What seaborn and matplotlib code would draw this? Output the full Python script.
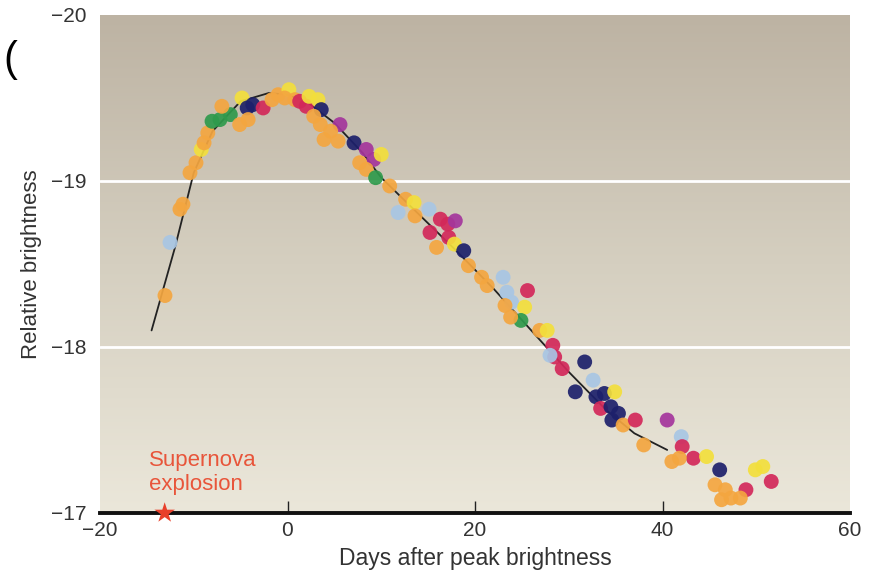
import numpy as np
import pandas as pd
import matplotlib
matplotlib.use("Agg")
import matplotlib.pyplot as plt
import seaborn as sns
from matplotlib.colors import LinearSegmentedColormap

# ---------------- data ----------------
days = [-13.07, -12.53, -11.47, -11.15, -10.4, -9.76, -9.2, -8.9, -8.5, -8.05,
        -7.2, -6.1, -7.0, -4.85, -4.3, -3.7, -5.1, -4.2, -2.6, -1.65,
        -1.0, 0.15, -0.3, 0.8, 1.3, 2.0, 2.3, 3.25, 3.6, 2.8,
        3.5, 3.9, 5.6, 4.6, 5.4, 7.1, 8.4, 9.2, 10.0, 7.7,
        8.4, 9.4, 10.9, 12.6, 13.5, 11.8, 15.1, 13.6, 16.3, 17.1,
        17.9, 15.2, 17.2, 15.9, 17.8, 18.8, 19.3, 20.7, 21.3, 23.0,
        23.4, 23.9, 25.6, 23.2, 25.3, 24.9, 23.8, 26.9, 27.7, 28.3,
        28.5, 29.3, 28.0, 31.7, 32.6, 30.7, 32.9, 33.8, 34.9, 33.4,
        34.5, 35.3, 34.6, 35.8, 37.1, 40.5, 42.0, 42.1, 43.3, 38.0,
        44.7, 41.0, 41.8, 46.1, 45.6, 46.7, 47.3, 46.3, 48.9, 49.9,
        50.7, 51.6, 48.3]
brightness = [-18.31, -18.63, -18.83, -18.86, -19.05, -19.11, -19.19, -19.23, -19.29, -19.36,
              -19.37, -19.40, -19.45, -19.50, -19.44, -19.46, -19.34, -19.37, -19.44, -19.49,
              -19.52, -19.55, -19.50, -19.49, -19.48, -19.45, -19.51, -19.49, -19.43, -19.39,
              -19.34, -19.25, -19.34, -19.30, -19.24, -19.23, -19.19, -19.13, -19.16, -19.11,
              -19.07, -19.02, -18.97, -18.89, -18.87, -18.81, -18.83, -18.79, -18.77, -18.74,
              -18.76, -18.69, -18.66, -18.60, -18.62, -18.58, -18.49, -18.42, -18.37, -18.42,
              -18.33, -18.27, -18.34, -18.25, -18.24, -18.16, -18.18, -18.10, -18.10, -18.01,
              -17.94, -17.87, -17.95, -17.91, -17.80, -17.73, -17.70, -17.72, -17.73, -17.63,
              -17.64, -17.60, -17.56, -17.53, -17.56, -17.56, -17.46, -17.40, -17.33, -17.41,
              -17.34, -17.31, -17.33, -17.26, -17.17, -17.14, -17.09, -17.08, -17.14, -17.26,
              -17.28, -17.19, -17.09]
survey = ["orange", "lightblue", "orange", "orange", "orange", "orange", "yellow", "orange", "orange", "green",
          "green", "green", "orange", "yellow", "navy", "navy", "orange", "orange", "crimson", "orange",
          "orange", "yellow", "orange", "orange", "crimson", "crimson", "yellow", "yellow", "navy", "orange",
          "orange", "orange", "purple", "orange", "orange", "navy", "purple", "purple", "yellow", "orange",
          "orange", "green", "orange", "orange", "yellow", "lightblue", "lightblue", "orange", "crimson", "crimson",
          "purple", "crimson", "crimson", "orange", "yellow", "navy", "orange", "orange", "orange", "lightblue",
          "lightblue", "lightblue", "crimson", "orange", "yellow", "green", "orange", "orange", "yellow", "crimson",
          "crimson", "crimson", "lightblue", "navy", "lightblue", "navy", "navy", "navy", "yellow", "crimson",
          "navy", "navy", "navy", "orange", "crimson", "purple", "lightblue", "crimson", "crimson", "orange",
          "yellow", "orange", "orange", "navy", "orange", "orange", "orange", "orange", "crimson", "yellow",
          "yellow", "crimson", "orange"]

curve_days = [-14.5, -12.0, -10.0, -8.0, -5.0, -2.0, 0.0, 2.0, 5.0, 8.0,
              10.0, 14.0, 18.0, 22.0, 26.0, 30.0, 34.0, 37.0, 40.5]
curve_bright = [-18.10, -18.60, -19.05, -19.30, -19.48, -19.53, -19.52, -19.48, -19.35, -19.17,
                -19.02, -18.80, -18.58, -18.35, -18.10, -17.85, -17.62, -17.48, -17.38]

x_ticks = [-20, 0, 20, 40, 60]
y_ticks = [-20, -19, -18, -17]
explosion_day = [-13.1]
explosion_bright = [-17.0]

palette = {"orange": "#f4a640", "yellow": "#f3df3c", "green": "#2f9a4c",
           "navy": "#1d206b", "crimson": "#d3285a", "purple": "#a4359c",
           "lightblue": "#a8c6e4"}

# ---------------- plot ----------------
sns.set_theme(style="white")
plt.rcParams["font.family"] = ["Liberation Sans Narrow", "Liberation Sans", "DejaVu Sans"]

fig = plt.figure(figsize=(8.73, 5.73), dpi=100)
ax = fig.add_axes([100 / 873, 60 / 573, 750 / 873, 498 / 573])

# background gradient: darker tan at top, lighter towards the bottom
cmap = LinearSegmentedColormap.from_list("bg", ["#ebe7da", "#d5cfc0", "#bdb3a3"])
grad = np.linspace(0, 1, 256).reshape(-1, 1)
ax.imshow(grad, extent=[-20, 60, -17, -20], aspect="auto", cmap=cmap,
          origin="lower", zorder=0)

for yv in [-19, -18]:
    ax.axhline(yv, color="white", lw=2.0, zorder=1)

df = pd.DataFrame({"days": days, "brightness": brightness, "survey": survey})
sns.scatterplot(data=df, x="days", y="brightness", hue="survey", palette=palette,
                s=115, edgecolor="none", alpha=0.92, legend=False, ax=ax, zorder=3)

cdf = pd.DataFrame({"days": curve_days, "brightness": curve_bright})
sns.lineplot(data=cdf, x="days", y="brightness", color="#222222", lw=1.3,
             ax=ax, zorder=2, sort=False)

ax.set_xlim(-20, 60)
ax.set_ylim(-17, -20)
ax.set_xticks(x_ticks)
ax.set_xticklabels([f"\u2212{abs(v)}" if v < 0 else str(v) for v in x_ticks])
ax.set_yticks(y_ticks)
ax.set_yticklabels([f"\u2212{abs(v)}" for v in y_ticks])

for s in ["top", "right", "left"]:
    ax.spines[s].set_visible(False)
ax.spines["bottom"].set_color("#111111")
ax.spines["bottom"].set_linewidth(2.8)
ax.spines["bottom"].set_zorder(5)

ax.tick_params(axis="x", direction="in", length=9, width=1.0, color="#222222",
               labelsize=15, labelcolor="#333333", pad=6, bottom=True)
ax.tick_params(axis="y", length=0, labelsize=15, labelcolor="#333333", pad=10)
xt = ax.xaxis.get_major_ticks()
xt[0].tick1line.set_visible(False)
xt[-1].tick1line.set_visible(False)

ax.set_xlabel("Days after peak brightness", fontsize=16.5, color="#333333", labelpad=5)
ax.set_ylabel("Relative brightness", fontsize=16, color="#333333", labelpad=6)

# supernova explosion marker
ax.scatter(explosion_day, explosion_bright, marker="*", s=240, color="#e8402a",
           edgecolor="none", zorder=6, clip_on=False)
ax.text(-14.8, -17.11, "Supernova\nexplosion", color="#e8553a", fontsize=16,
        ha="left", va="bottom", linespacing=1.2)

fig.text(0.004, 0.86, "(", fontsize=30, color="black", ha="left", va="bottom")

fig.savefig("out.png", dpi=100)
